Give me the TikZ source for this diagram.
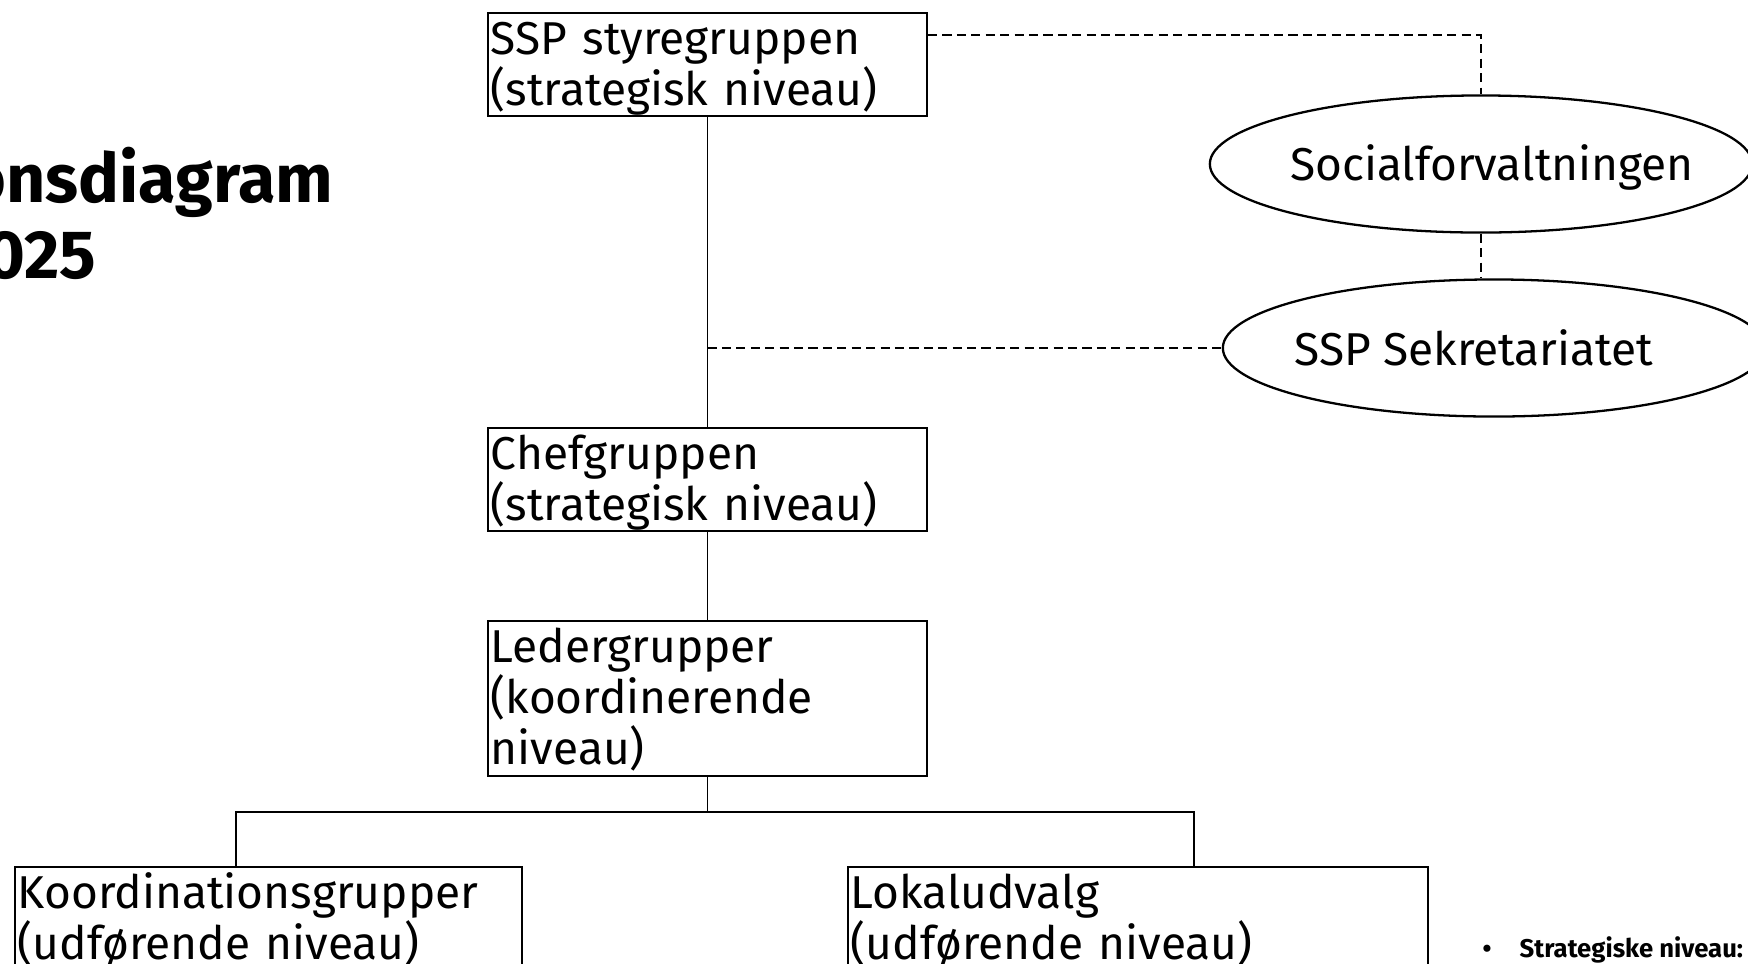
\documentclass[tikz,border=0pt]{standalone}
\usepackage{fontspec}
\setmainfont{Fira Sans}
\usepackage{tikz}
\usetikzlibrary{calc, shapes, positioning}
\tikzset{>=latex}
\newcommand{\boxfont}{\fontsize{13.1pt}{14.5pt}\selectfont}
\newcommand{\titlefont}{\fontsize{19.4pt}{21.6pt}\selectfont\bfseries}
\newcommand{\notefont}{\fontsize{7.3pt}{8pt}\selectfont\bfseries}
\tikzset{box/.style = {draw, line width = 0.5pt, rectangle, anchor = north west, inner xsep = 0.03cm, inner ysep = 0, align = left, text height = 0.42cm, text depth = 0.61cm, font = \boxfont},
oval/.style = {draw, line width = 0.65pt, ellipse, minimum width = 5.42cm, minimum height = 1.37cm},
link/.style = {line width = 0.4pt},
dlink/.style = {line width = 0.45pt, dash pattern = on 2.6pt off 1.5pt}}

\begin{document}
\begin{tikzpicture}[x = 0.01cm, y = -0.01cm]

\useasboundingbox (0,0) rectangle (1748,963); % for the frame
\clip (0,0) rectangle (1748,963);

% title, cut at the left edge
\node[anchor = base east, font = \titlefont, inner sep = 0] (title1) at (334, 202) {onsdiagram};
\node[anchor = base east, font = \titlefont, inner sep = 0] (title2) at (97, 278) {025};

\node[box, text width = 4.33cm] (styre) at (487, 12) {SSP styregruppen\\(strategisk niveau)};
\node[box, text width = 4.33cm] (chef) at (487, 427) {Chefgruppen\\(strategisk niveau)};
\node[box, text width = 4.33cm, text depth = 1.13cm] (leder) at (487, 620) {Ledergrupper\\(koordinerende\\niveau)};
\node[box, text width = 5.01cm] (koord) at (14, 866) {Koordinationsgrupper\\(udførende niveau)};
\node[box, text width = 5.74cm] (lokal) at (847, 866) {Lokaludvalg\\(udførende niveau)};

\node[oval, label = {[font = \boxfont, xshift = 0.11cm, yshift = -0.03cm]center:Socialforvaltningen}] (soc) at (1481, 164) {};
\node[oval, label = {[font = \boxfont, xshift = -0.2cm]center:SSP Sekretariatet}] (sek) at (1494, 348) {};

\node[anchor = base, font = \notefont, inner sep = 0] (dot) at (1487, 957) {\textbullet};
\node[anchor = base west, font = \notefont, inner sep = 0] (note) at (1519, 957) {Strategiske niveau:};

\draw[link] (styre.south) -- (chef.north);
\draw[link] (chef.south) -- (leder.north);
\coordinate (bus) at (leder.south |- 0, 812);
\coordinate (kin) at ($(koord.north west) + (222, 0)$);
\coordinate (lin) at ($(lokal.north west) + (347, 0)$);
\draw[link] (leder.south) -- (bus);
\draw[link] (kin) |- (bus) -| (lin);

\coordinate (sout) at ($(styre.north east) + (0, 23)$);
\draw[dlink] (sout) -| (soc.north);
\draw[dlink] (soc.south) -- (soc.south |- sek.north);
\draw[dlink] (styre.south |- sek.west) -- (sek.west);

\end{tikzpicture}
\end{document}
